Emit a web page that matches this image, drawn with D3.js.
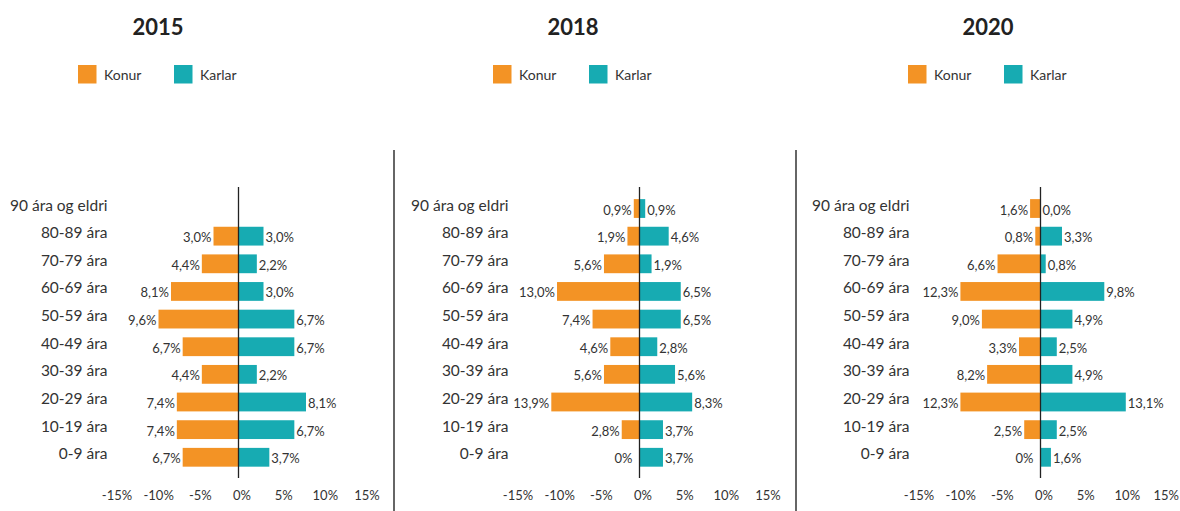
<!DOCTYPE html>
<html>
<head>
<meta charset="utf-8">
<style>
    body { margin: 0; background: #fff; }
    text { font-family: Lato, "Open Sans", sans-serif; fill: #333; }
</style>
</head>
<body>
<script src="https://cdn.jsdelivr.net/npm/d3@7"></script>
<script>
    // age groups, top to bottom
    const categories = ["90 ára og eldri", "80-89 ára", "70-79 ára", "60-69 ára", "50-59 ára",
        "40-49 ára", "30-39 ára", "20-29 ára", "10-19 ára", "0-9 ára"]
    const years = ["2015", "2018", "2020"]
    const series = ["Konur", "Karlar"]
    const tickValues = [-15, -10, -5, 0, 5, 10, 15]

    // percentages (null = nothing drawn)
    const konur2015 = [null, 3.0, 4.4, 8.1, 9.6, 6.7, 4.4, 7.4, 7.4, 6.7]
    const karlar2015 = [null, 3.0, 2.2, 3.0, 6.7, 6.7, 2.2, 8.1, 6.7, 3.7]
    const konur2018 = [0.9, 1.9, 5.6, 13.0, 7.4, 4.6, 5.6, 13.9, 2.8, 0]
    const karlar2018 = [0.9, 4.6, 1.9, 6.5, 6.5, 2.8, 5.6, 8.3, 3.7, 3.7]
    const konur2020 = [1.6, 0.8, 6.6, 12.3, 9.0, 3.3, 8.2, 12.3, 2.5, 0]
    const karlar2020 = [0.0, 3.3, 0.8, 9.8, 4.9, 2.5, 4.9, 13.1, 2.5, 1.6]

    const colors = { Konur: "#f39325", Karlar: "#17abb2" }
    // in the source the bars of 2018 and 2020 are drawn on a narrower scale than the axis
    const barExtent = [15, 19.7, 19.2]

    const panels = [
        { year: years[0], konur: konur2015, karlar: karlar2015 },
        { year: years[1], konur: konur2018, karlar: karlar2018 },
        { year: years[2], konur: konur2020, karlar: karlar2020 }
    ]

    const W = 1180
    const svg = d3.select("body").append("svg")
        .attr("width", W)
        .attr("height", 511)

    const y = d3.scaleBand()
        .domain(categories)
        .range([194.7, 471.1])
        .paddingInner(0.32)
        .paddingOuter(0.16)

    const fmt = d3.format(".1f")
    function label(v, side) {
        if (v === 0 && side === "Konur") return "0%"
        return fmt(v).replace(".", ",") + "%"
    }

    // panel separators
    svg.selectAll("line.sep")
        .data([394, 796])
        .enter()
        .append("line")
        .attr("class", "sep")
        .attr("x1", d => d).attr("x2", d => d)
        .attr("y1", 150).attr("y2", 511)
        .attr("stroke", "#333")
        .attr("stroke-width", 1.5)

    panels.forEach((p, i) => {
        const zero = 238.5 + 401 * i
        const lx = 78 + 415 * i
        const g = svg.append("g")

        // title + legend
        g.append("text")
            .attr("x", lx + 80).attr("y", 35)
            .attr("text-anchor", "middle")
            .style("font-size", "22px")
            .style("font-weight", "bold")
            .style("fill", "#222")
            .text(p.year)

        const leg = g.selectAll("g.leg")
            .data(series)
            .enter()
            .append("g")
            .attr("transform", (d, j) => `translate(${lx + j * 96},0)`)
        leg.append("rect")
            .attr("x", 0).attr("y", 65)
            .attr("width", 18.5).attr("height", 18.5)
            .attr("fill", d => colors[d])
        leg.append("text")
            .attr("x", 26).attr("y", 80)
            .style("font-size", "14px")
            .text(d => d)

        const x = d3.scaleLinear().domain([-15, 15]).range([zero - 125, zero + 125])
        const xb = d3.scaleLinear().domain([-barExtent[i], barExtent[i]]).range([zero - 125, zero + 125])

        // category labels
        g.selectAll("text.cat")
            .data(categories)
            .enter()
            .append("text")
            .attr("class", "cat")
            .attr("x", zero - 131)
            .attr("y", d => y(d) + y.bandwidth() / 2 + 2)
            .attr("text-anchor", "end")
            .style("font-size", "15.5px")
            .text(d => d)

        const rows = categories.map((c, k) => ({ cat: c, konur: p.konur[k], karlar: p.karlar[k] }))

        // women to the left
        g.selectAll("rect.konur")
            .data(rows.filter(d => d.konur !== null))
            .enter()
            .append("rect")
            .attr("x", d => xb(-d.konur))
            .attr("y", d => y(d.cat))
            .attr("width", d => xb(0) - xb(-d.konur))
            .attr("height", y.bandwidth())
            .attr("fill", colors.Konur)

        g.selectAll("rect.karlar")
            .data(rows.filter(d => d.karlar !== null))
            .enter()
            .append("rect")
            .attr("x", xb(0))
            .attr("y", d => y(d.cat))
            .attr("width", d => xb(d.karlar) - xb(0))
            .attr("height", y.bandwidth())
            .attr("fill", colors.Karlar)

        g.selectAll("text.lk")
            .data(rows.filter(d => d.konur !== null))
            .enter()
            .append("text")
            .attr("x", d => xb(-d.konur) - (d.konur === 0 ? 7 : 2))
            .attr("y", d => y(d.cat) + y.bandwidth() / 2 + 6)
            .attr("text-anchor", "end")
            .style("font-size", "13px")
            .text(d => label(d.konur, "Konur"))

        g.selectAll("text.lm")
            .data(rows.filter(d => d.karlar !== null))
            .enter()
            .append("text")
            .attr("x", d => xb(d.karlar) + 2)
            .attr("y", d => y(d.cat) + y.bandwidth() / 2 + 6)
            .style("font-size", "13px")
            .text(d => label(d.karlar, "Karlar"))

        // centre line
        g.append("line")
            .attr("x1", x(0)).attr("x2", x(0))
            .attr("y1", 187).attr("y2", 478)
            .attr("stroke", "#222")
            .attr("stroke-width", 1.3)

        // x axis labels only
        const axis = g.append("g")
            .attr("transform", "translate(3,488)")
            .call(d3.axisBottom(x).tickValues(tickValues).tickSize(0).tickPadding(3).tickFormat(d => d + "%"))
        axis.select(".domain").remove()
        axis.selectAll("text")
            .style("font-size", "13px")
            .style("font-family", "Lato, sans-serif")
            .attr("fill", "#333")
            .each(function () {
                // keep the last label of the right panel inside the window
                const b = this.getBoundingClientRect()
                if (b.right > W - 1) d3.select(this).attr("x", W - 1 - b.right)
            })
    })
</script>
</body>
</html>
